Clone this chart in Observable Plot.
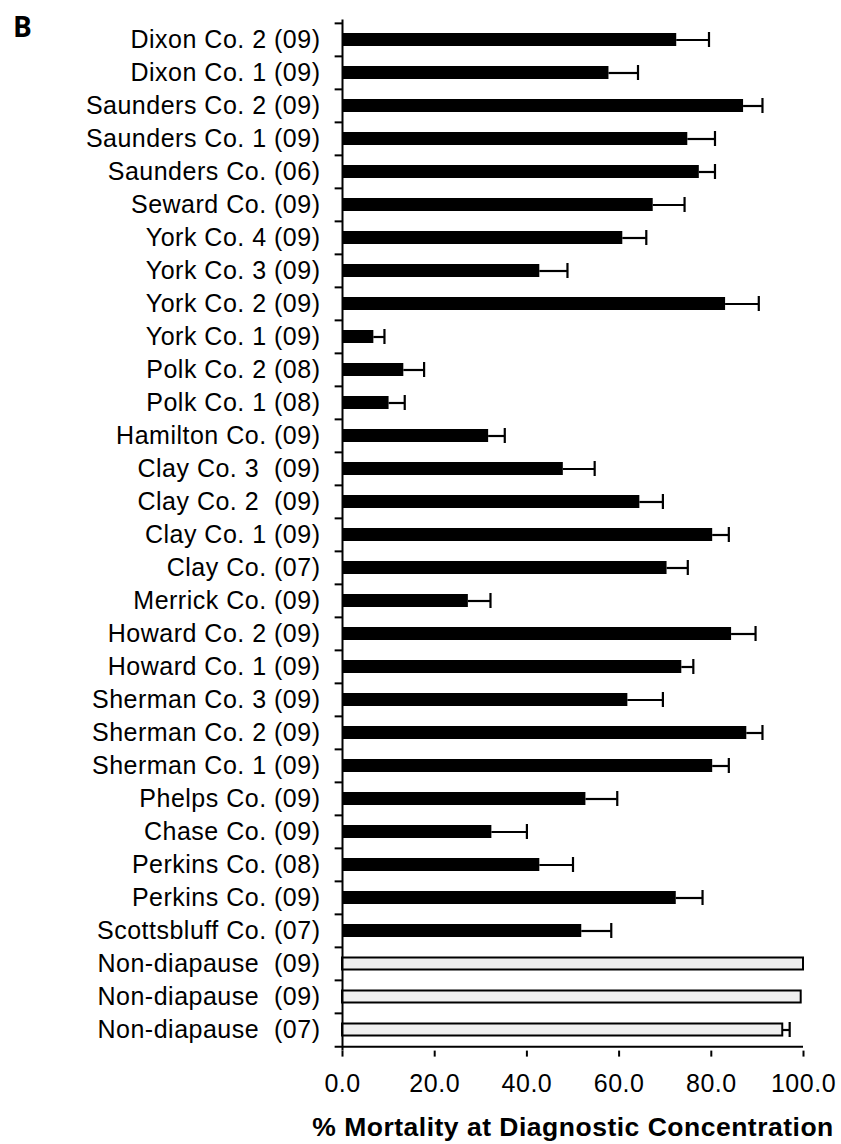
<!DOCTYPE html>
<html>
<head>
<meta charset="utf-8">
<script src="https://cdn.jsdelivr.net/npm/d3@7"></script>
<script src="https://cdn.jsdelivr.net/npm/@observablehq/plot@0.6"></script>
<style>
  html, body { margin: 0; padding: 0; background: #fff; }
  #wrap { position: relative; width: 841px; height: 1144px; }
  #panel { position: absolute; left: 13px; top: 12px; font: bold 28px "Open Sans", sans-serif; line-height: 28px; color: #000; }
  #chart svg text { white-space: pre; }
</style>
</head>
<body>
<div id="wrap">
  <div id="chart"></div>
  <div id="panel">B</div>
</div>
<script>
// ---- data ----
const labels = [
  "Dixon Co. 2 (09)", "Dixon Co. 1 (09)", "Saunders Co. 2 (09)", "Saunders Co. 1 (09)",
  "Saunders Co. (06)", "Seward Co. (09)", "York Co. 4 (09)", "York Co. 3 (09)",
  "York Co. 2 (09)", "York Co. 1 (09)", "Polk Co. 2 (08)", "Polk Co. 1 (08)",
  "Hamilton Co. (09)", "Clay Co. 3  (09)", "Clay Co. 2  (09)", "Clay Co. 1 (09)",
  "Clay Co. (07)", "Merrick Co. (09)", "Howard Co. 2 (09)", "Howard Co. 1 (09)",
  "Sherman Co. 3 (09)", "Sherman Co. 2 (09)", "Sherman Co. 1 (09)", "Phelps Co. (09)",
  "Chase Co. (09)", "Perkins Co. (08)", "Perkins Co. (09)", "Scottsbluff Co. (07)",
  "Non-diapause  (09)", "Non-diapause  (09)", "Non-diapause  (07)"
];
const mortality = [
  72.5, 57.8, 87.0, 74.9, 77.4, 67.4, 60.8, 42.8,
  83.1, 6.8, 13.3, 10.1, 31.7, 47.9, 64.5, 80.3,
  70.4, 27.3, 84.4, 73.6, 61.9, 87.7, 80.3, 52.8,
  32.4, 42.8, 72.4, 51.9, 100.0, 99.5, 95.5
];
const sem = [
  7.0, 6.3, 4.1, 5.9, 3.4, 6.8, 5.1, 6.0,
  7.2, 2.3, 4.4, 3.4, 3.5, 6.8, 5.0, 3.5,
  4.5, 4.8, 5.2, 2.5, 7.6, 3.4, 3.5, 6.8,
  7.6, 7.2, 5.7, 6.4, 0, 0, 1.5
];
const population = [
  "field","field","field","field","field","field","field","field",
  "field","field","field","field","field","field","field","field",
  "field","field","field","field","field","field","field","field",
  "field","field","field","field","lab","lab","lab"
];
const xTicks = [0, 20, 40, 60, 80, 100];
const xTitle = "% Mortality at Diagnostic Concentration";

const rows = labels.map((name, i) => ({i, name, value: mortality[i], se: sem[i], pop: population[i]}));
const idx = rows.map(d => d.i);

const W = 841, H = 1144, mT = 19.4, mB = 93.4, mL = 342, mR = 38;
const step = (H - mT - mB) / labels.length;

const chart = Plot.plot({
  width: W, height: H,
  marginLeft: mL, marginRight: mR, marginTop: mT, marginBottom: mB,
  style: {fontFamily: "'Liberation Sans', Arial, sans-serif", fontSize: "25px", letterSpacing: "0.5px", color: "#000", background: "#fff"},
  x: {domain: [0, 100]},
  y: {domain: idx, paddingInner: 0.6, paddingOuter: 0.3},
  marks: [
    Plot.barX(rows.filter(d => d.pop === "field"), {x: "value", y: "i", fill: "#000"}),
    Plot.barX(rows.filter(d => d.pop === "lab"), {x: "value", y: "i", fill: "#efefef", stroke: "#000", strokeWidth: 2, insetTop: 0.5, insetBottom: 0.5}),
    Plot.ruleY(rows.filter(d => d.se > 0), {y: "i", x1: "value", x2: d => d.value + d.se, stroke: "#000", strokeWidth: 2.2}),
    Plot.tickX(rows.filter(d => d.se > 0), {y: "i", x: d => d.value + d.se, stroke: "#000", strokeWidth: 2.2, insetTop: -1, insetBottom: -1}),
    Plot.ruleX([0], {stroke: "#000", strokeWidth: 2}),
    Plot.ruleY(idx, {y: d => d, x1: -1.6, x2: 0, dy: -step / 2, stroke: "#000", strokeWidth: 2}),
    Plot.ruleY([idx[idx.length - 1]], {y: d => d, x1: -1.6, x2: 100, dy: step / 2, stroke: "#000", strokeWidth: 2}),
    Plot.axisX({ticks: xTicks, tickSize: 6, tickPadding: 17, tickFormat: d3.format(".1f"), strokeWidth: 2, label: null}),
    Plot.axisY({tickSize: 0, tickPadding: 22, tickFormat: i => labels[i], label: null}),
    Plot.text([xTitle], {text: d => d, frameAnchor: "bottom", dy: 76, lineAnchor: "middle", fontSize: 26.5, fontWeight: "bold"})
  ]
});
document.getElementById("chart").appendChild(chart);
</script>
</body>
</html>
